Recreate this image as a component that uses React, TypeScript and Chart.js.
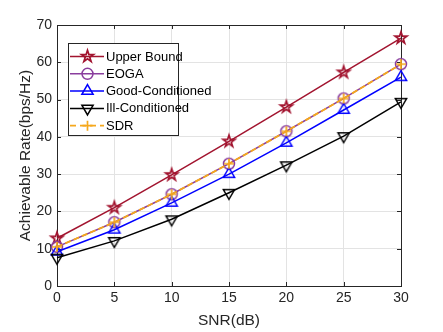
import React, { useEffect, useRef } from 'react';
import { Chart, registerables } from 'chart.js';

Chart.register(...registerables);

const snr = [0, 5, 10, 15, 20, 25, 30];
const upperBound = [12.8, 21.0, 29.8, 38.8, 48.0, 57.3, 66.5];
const eoga = [10.5, 17.1, 24.6, 32.8, 41.5, 50.3, 59.5];
const goodCond = [9.2, 15.1, 22.3, 30.0, 38.4, 47.2, 56.0];
const illCond = [7.6, 12.1, 17.9, 25.0, 32.4, 40.2, 49.4];
const sdr = [10.5, 17.1, 24.6, 32.8, 41.5, 50.3, 59.5];
const seriesNames = ['Upper Bound', 'EOGA', 'Good-Conditioned', 'Ill-Conditioned', 'SDR'];
const xTitle = 'SNR(dB)';
const yTitle = 'Achievable Rate(bps/Hz)';

const FONT = '"Liberation Sans", Arial, Helvetica, sans-serif';
const AXIS = '#262626';
const colors = ['#A2142F', '#8A3E9E', '#0000FF', '#000000', '#F5A81C'];
const markers = ['pentagram', 'circle', 'triUp', 'triDown', 'plus'];

function pentagramPath(ctx: CanvasRenderingContext2D, cx: number, cy: number, r: number) {
  const ri = r * 0.382;
  ctx.beginPath();
  for (let i = 0; i < 10; i++) {
    const rr = i % 2 === 0 ? r : ri;
    const a = -Math.PI / 2 + (i * Math.PI) / 5;
    const px = cx + rr * Math.cos(a);
    const py = cy + rr * Math.sin(a);
    if (i === 0) ctx.moveTo(px, py);
    else ctx.lineTo(px, py);
  }
  ctx.closePath();
}

function drawMarker(ctx: CanvasRenderingContext2D, type: string, x: number, y: number, color: string) {
  ctx.save();
  ctx.strokeStyle = color;
  ctx.lineWidth = 1.5;
  ctx.setLineDash([]);
  if (type === 'pentagram') {
    pentagramPath(ctx, x, y, 6.2);
    ctx.lineWidth = 1.7;
    ctx.stroke();
  } else if (type === 'circle') {
    ctx.beginPath();
    ctx.arc(x, y, 5.5, 0, Math.PI * 2);
    ctx.stroke();
  } else if (type === 'triUp' || type === 'triDown') {
    const s = type === 'triUp' ? 1 : -1;
    const r = 6.5;
    ctx.beginPath();
    ctx.moveTo(x, y - s * r);
    ctx.lineTo(x + r * 0.866, y + s * r * 0.5);
    ctx.lineTo(x - r * 0.866, y + s * r * 0.5);
    ctx.closePath();
    ctx.stroke();
  } else if (type === 'plus') {
    ctx.lineWidth = 1.7;
    ctx.beginPath();
    ctx.moveTo(x - 5, y);
    ctx.lineTo(x + 5, y);
    ctx.moveTo(x, y - 5);
    ctx.lineTo(x, y + 5);
    ctx.stroke();
  }
  ctx.restore();
}

function makeMarkerCanvas(type: string, color: string) {
  const c = document.createElement('canvas');
  c.width = 20;
  c.height = 20;
  const ctx = c.getContext('2d')!;
  drawMarker(ctx, type, 10, 10, color);
  return c;
}

const boxPlugin = {
  id: 'matlabBox',
  beforeDatasetsDraw(chart: any) {
    const { ctx, chartArea: a, scales } = chart;
    ctx.save();
    ctx.strokeStyle = AXIS;
    ctx.lineWidth = 1;
    ctx.beginPath();
    const tl = 4;
    scales.x.ticks.forEach((t: any) => {
      const px = Math.round(scales.x.getPixelForValue(t.value)) + 0.5;
      ctx.moveTo(px, a.bottom);
      ctx.lineTo(px, a.bottom - tl);
      ctx.moveTo(px, a.top);
      ctx.lineTo(px, a.top + tl);
    });
    scales.y.ticks.forEach((t: any) => {
      const py = Math.round(scales.y.getPixelForValue(t.value)) + 0.5;
      ctx.moveTo(a.left, py);
      ctx.lineTo(a.left + tl, py);
      ctx.moveTo(a.right, py);
      ctx.lineTo(a.right - tl, py);
    });
    ctx.stroke();
    ctx.strokeRect(Math.round(a.left) + 0.5, Math.round(a.top) + 0.5, Math.round(a.right - a.left), Math.round(a.bottom - a.top));
    ctx.restore();
  },
};

const legendPlugin = {
  id: 'matlabLegend',
  afterDraw(chart: any) {
    const { ctx } = chart;
    const x0 = 68, y0 = 43, w = 110, h = 92;
    ctx.save();
    ctx.fillStyle = '#ffffff';
    ctx.fillRect(x0, y0, w, h);
    ctx.strokeStyle = AXIS;
    ctx.lineWidth = 1;
    ctx.strokeRect(x0 + 0.5, y0 + 0.5, w, h);
    ctx.font = `13px ${FONT}`;
    ctx.textBaseline = 'middle';
    ctx.textAlign = 'left';
    seriesNames.forEach((name, i) => {
      const y = y0 + 13.5 + i * 17.3;
      ctx.save();
      ctx.strokeStyle = colors[i];
      ctx.lineWidth = i === 4 ? 1.8 : 1.5;
      if (i === 4) ctx.setLineDash([6, 4]);
      ctx.beginPath();
      ctx.moveTo(x0 + 2, y);
      ctx.lineTo(x0 + 36, y);
      ctx.stroke();
      ctx.restore();
      drawMarker(ctx, markers[i], x0 + 19.5, y, colors[i]);
      ctx.fillStyle = '#000000';
      ctx.fillText(name, x0 + 38, y + 0.5);
    });
    ctx.restore();
  },
};

export default function App() {
  const ref = useRef<HTMLCanvasElement>(null);
  useEffect(() => {
    const canvas = ref.current!;
    const series = [upperBound, eoga, goodCond, illCond, sdr];
    const datasets = series.map((arr, i) => ({
      label: seriesNames[i],
      data: snr.map((x, j) => ({ x, y: arr[j] })),
      borderColor: colors[i],
      backgroundColor: 'transparent',
      borderWidth: i === 4 ? 1.8 : 1.5,
      borderDash: i === 4 ? [6, 3] : [],
      pointStyle: makeMarkerCanvas(markers[i], colors[i]) as any,
      pointRadius: 6,
      pointHoverRadius: 6,
      tension: 0,
      clip: false as any,
      order: 4 - i,
    }));
    const chart = new Chart(canvas, {
      type: 'line',
      data: { datasets },
      options: {
        animation: false,
        responsive: false,
        devicePixelRatio: 1,
        layout: { padding: { left: 14, top: 25, right: 42, bottom: 0 } },
        plugins: { legend: { display: false }, tooltip: { enabled: false } },
        scales: {
          x: {
            type: 'linear',
            min: 0,
            max: 30,
            ticks: { stepSize: 5, color: AXIS, font: { family: FONT, size: 14 }, padding: 4, maxRotation: 0 },
            grid: { color: '#e3e3e3', drawTicks: false },
            border: { display: false },
            title: { display: true, text: xTitle, color: AXIS, font: { family: FONT, size: 15.5 }, padding: { top: 0, bottom: 2 } },
            afterFit: (s: any) => { s.height = 46; },
          },
          y: {
            type: 'linear',
            min: 0,
            max: 70,
            ticks: { stepSize: 10, color: AXIS, font: { family: FONT, size: 14 }, padding: 5 },
            grid: { color: '#e3e3e3', drawTicks: false },
            border: { display: false },
            title: { display: true, text: yTitle, color: AXIS, font: { family: FONT, size: 15.5 }, padding: { top: 2, bottom: 0 } },
            afterFit: (s: any) => { s.width = 43; },
          },
        },
      },
      plugins: [boxPlugin, legendPlugin],
    });
    return () => chart.destroy();
  }, []);
  return (
    <div style={{ position: 'fixed', left: 0, top: 0, width: 443, height: 332, background: '#fff' }}>
      <canvas ref={ref} width={443} height={332} style={{ width: 443, height: 332, display: 'block' }} />
    </div>
  );
}
